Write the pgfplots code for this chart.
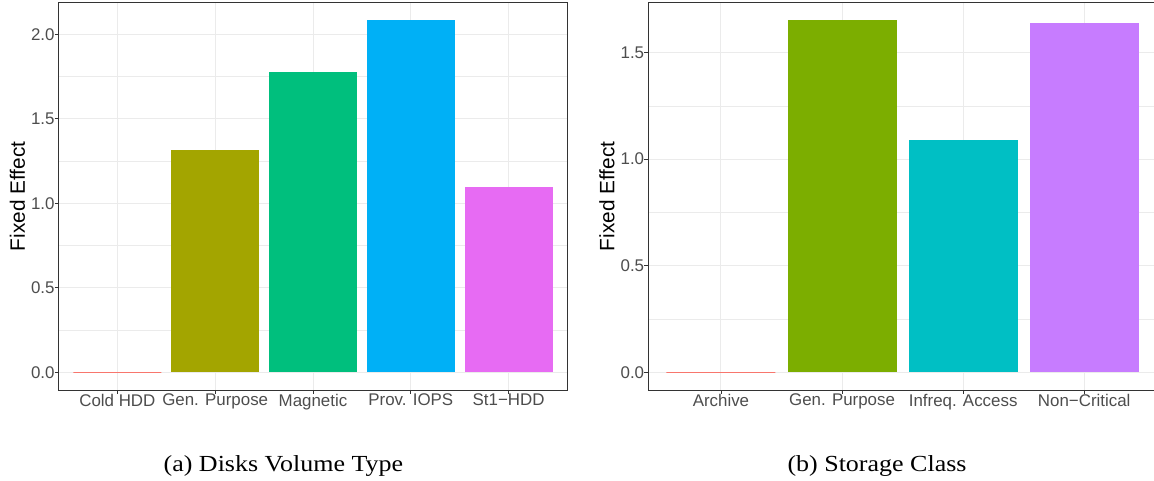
\documentclass[border=0pt]{standalone}
\usepackage{pgfplots}
\pgfplotsset{compat=1.18}
\usepackage{graphicx}
\usepackage{fontspec}
\setmainfont{Liberation Sans}
\newfontfamily\capfont{Liberation Serif}
\definecolor{cA}{HTML}{F8766D}
\definecolor{cB}{HTML}{A3A500}
\definecolor{cC}{HTML}{00BF7D}
\definecolor{cD}{HTML}{00B0F6}
\definecolor{cE}{HTML}{E76BF3}
\definecolor{cF}{HTML}{7CAE00}
\definecolor{cG}{HTML}{00BFC4}
\definecolor{cH}{HTML}{C77CFF}
\definecolor{frame}{HTML}{333333}
\definecolor{gridc}{HTML}{EBEBEB}
\definecolor{ticktext}{HTML}{4D4D4D}
\pgfplotsset{
  gg/.style={
    scale only axis, width=508.6pt, height=387.3pt,
    anchor=south west,
    axis line style={draw=frame, line width=0.9pt},
    tick style={draw=frame, line width=0.9pt},
    tick align=outside, major tick length=4pt, minor tick length=0pt,
    xtick pos=lower, ytick pos=left,
    xmajorgrids, ymajorgrids, yminorgrids,
    major grid style={draw=gridc, line width=1pt},
    minor grid style={draw=gridc, line width=0.55pt},
    xmin=0.4,
    ticklabel style={font=\fontsize{16.9}{18}\selectfont, text=ticktext, inner sep=0pt},
    yticklabel style={/pgf/number format/.cd, fixed, fixed zerofill, precision=1},
    /pgf/number format/assume math mode=true,
    ylabel={Fixed Effect},
    ylabel style={font=\fontsize{20.8}{22}\selectfont, anchor=base},
  }
}
\begin{document}
\begin{tikzpicture}
\begin{axis}[gg, at={(58.7pt,91pt)},
  xmax=5.6, ymin=-0.1042, ymax=2.188,
  xtick={1,2,3,4,5},
  xticklabels={Cold HDD, Gen. Purpose, Magnetic, Prov. IOPS, St1−HDD},
  ytick={0,0.5,1,1.5,2}, minor ytick={0.25,0.75,1.25,1.75},
  ylabel style={at={(axis description cs:-0.0663,0.5)}},
]
\addplot[ybar, bar width=0.9, draw=cA, line width=0.8pt, fill=none] coordinates {(1,0)};
\addplot[ybar, bar width=0.9, fill=cB, draw=none] coordinates {(2,1.314)};
\addplot[ybar, bar width=0.9, fill=cC, draw=none] coordinates {(3,1.777)};
\addplot[ybar, bar width=0.9, fill=cD, draw=none] coordinates {(4,2.084)};
\addplot[ybar, bar width=0.9, fill=cE, draw=none] coordinates {(5,1.096)};
\end{axis}
\begin{axis}[gg, at={(648.3pt,91pt)},
  xmax=4.6, ymin=-0.0826, ymax=1.7336,
  xtick={1,2,3,4},
  xticklabels={Archive, Gen. Purpose, Infreq. Access, Non−Critical},
  ytick={0,0.5,1,1.5}, minor ytick={0.25,0.75,1.25},
  ylabel style={at={(axis description cs:-0.0669,0.5)}},
]
\addplot[ybar, bar width=0.9, draw=cA, line width=0.8pt, fill=none] coordinates {(1,0)};
\addplot[ybar, bar width=0.9, fill=cF, draw=none] coordinates {(2,1.651)};
\addplot[ybar, bar width=0.9, fill=cG, draw=none] coordinates {(3,1.089)};
\addplot[ybar, bar width=0.9, fill=cH, draw=none] coordinates {(4,1.637)};
\end{axis}
\node[anchor=base, font=\capfont\fontsize{23}{25}\selectfont] at (283.4pt,9.3pt) {\scalebox{1.13}[1]{(a) Disks Volume Type}};
\node[anchor=base, font=\capfont\fontsize{23}{25}\selectfont] at (877pt,9.3pt) {\scalebox{1.13}[1]{(b) Storage Class}};
\pgfresetboundingbox
\path[use as bounding box] (0pt,0pt) rectangle (1154pt,481pt);
\end{tikzpicture}
\end{document}
